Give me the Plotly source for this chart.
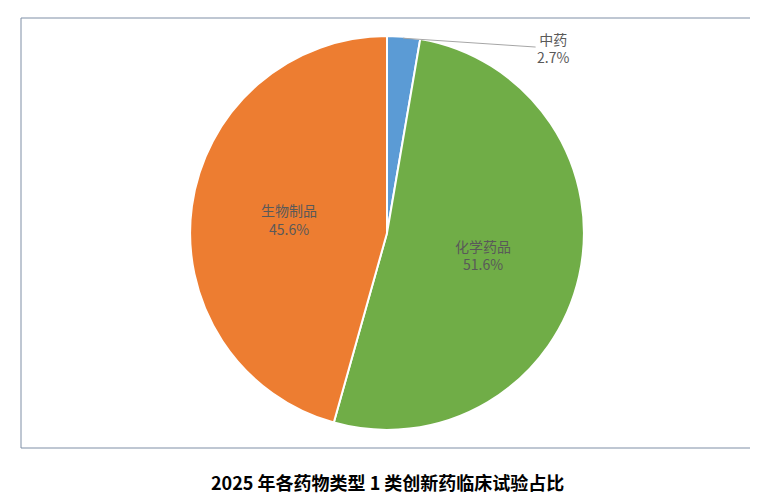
import plotly.graph_objects as go

labels = ["中药", "化学药品", "生物制品"]
values = [2.7, 51.6, 45.6]
colors = ["#5B9BD5", "#70AD47", "#ED7D31"]

fig = go.Figure(go.Pie(
    labels=labels, values=values, sort=False, direction="clockwise", rotation=0,
    marker=dict(colors=colors, line=dict(color="white", width=2)),
    texttemplate="%{label}<br>%{value}%",
    textposition=["none", "inside", "inside"],
    textfont=dict(family="Noto Sans CJK SC", size=14, color="#595959"),
    insidetextorientation="horizontal",
    domain=dict(x=[0.231, 0.769], y=[0.042, 0.958]),
    automargin=False,
    showlegend=False, hoverinfo="label+percent",
))

# outside label for the small slice, with leader line
fig.add_annotation(text=f"{labels[0]}<br>{values[0]}%", xref="paper", yref="paper",
                   x=0.522, y=0.953, ax=150, ay=10, showarrow=True, arrowhead=0,
                   arrowcolor="#A6A6A6", arrowwidth=1, standoff=0,
                   font=dict(family="Noto Sans CJK SC", size=14, color="#595959"))

fig.add_shape(type="rect", xref="paper", yref="paper", x0=0, y0=0, x1=1, y1=1,
              line=dict(color="#7F8FA6", width=1))
fig.add_annotation(text="<b>2025 年各药物类型 1 类创新药临床试验占比</b>",
                   xref="paper", yref="paper", x=0.5, y=-0.08, yanchor="middle",
                   showarrow=False, font=dict(family="Noto Sans CJK SC", size=18, color="black"))

fig.update_layout(width=758, height=504, margin=dict(l=13, r=13, t=10, b=64, autoexpand=False),
                  paper_bgcolor="white", plot_bgcolor="white")
fig.write_html("out.html")
